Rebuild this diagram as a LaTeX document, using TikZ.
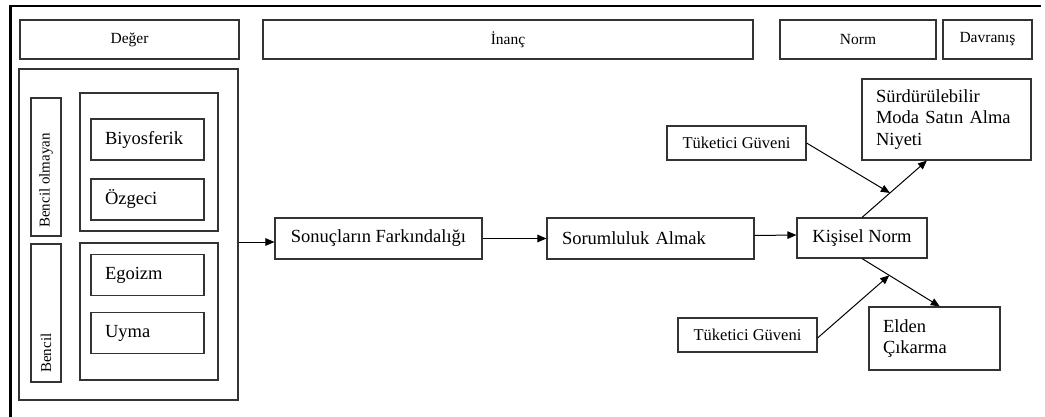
\documentclass[tikz,border=0pt]{standalone}
\usepackage{fontspec}
\setmainfont{Liberation Serif}
\usetikzlibrary{arrows.meta,calc}
\tikzset{
  box/.style={draw=black!80, line width=1.1pt, inner sep=0pt, align=center},
  hdr/.style={box, font=\fontsize{15.5}{18}\selectfont, minimum height=39pt},
  item/.style={box, font=\fontsize{18.5}{21.5}\selectfont, minimum width=113pt, minimum height=41pt,
               text width=85pt, align=left, inner xsep=14pt},
  side/.style={box, minimum width=30pt, minimum height=138pt},
  sidetxt/.style={font=\fontsize{15}{18}\selectfont, rotate=90, anchor=west, inner sep=0pt},
  main/.style={box, font=\fontsize{18.5}{21.5}\selectfont},
  trust/.style={box, font=\fontsize{16.5}{19}\selectfont, minimum width=139pt, minimum height=34pt},
  arr/.style={draw=black, line width=1pt, -{Triangle[length=9pt,width=7.5pt]}},
}
\begin{document}
\begin{tikzpicture}[x=1pt,y=-1pt]
\useasboundingbox (0,0) rectangle (1045,417);
% frame
\draw[line width=2.5pt, line cap=rect] (10.5,417) -- (10.5,6) -- (1040,6);

% column headers
\node[hdr, minimum width=219pt] (hval) at (129.5,39.5) {Değer};
\node[hdr, minimum width=490pt] (hbel) at (508,39.5) {İnanç};
\node[hdr, minimum width=156pt] (hnorm) at (858,39.5) {Norm};
\node[hdr, minimum width=89pt] (hbeh) at (987.5,39.5) {Davranış};

% values
\node[box, minimum width=219pt, minimum height=331pt] (val) at (128.5,234.5) {};
\node[side] (nself) at (46,167) {};
\node[sidetxt] (nselft) at (46,228) {Bencil olmayan};
\node[side] (self) at (46,313) {};
\node[sidetxt] (selft) at (46,373) {Bencil};
\node[box, minimum width=138pt, minimum height=138pt] (gup) at (149,162) {};
\node[box, minimum width=138pt, minimum height=137pt] (glo) at (149,311.5) {};
\node[item] (bio) at (147.5,139.5) {Biyosferik};
\node[item] (alt) at (147.5,199.5) {Özgeci};
\node[item] (ego) at (147.5,275) {Egoizm};
\node[item] (con) at (147.5,333) {Uyma};

% beliefs, norm, behaviour
\node[main, minimum width=207pt, minimum height=41pt] (son) at (378.5,238.5) {Sonuçların Farkındalığı};
\node[main, minimum width=207pt, minimum height=41pt, text width=177pt, align=left, inner xsep=15pt] (sor) at (650.5,238.5) {Sorumluluk Almak};
\node[main, minimum width=130pt, minimum height=40pt] (kn) at (862,238) {Kişisel Norm};
\node[trust] (tg1) at (736.5,143) {Tüketici Güveni};
\node[trust] (tg2) at (747.5,335) {Tüketici Güveni};
\node[main, minimum width=169pt, minimum height=81pt, text width=141pt, align=left, inner xsep=14pt] (sd) at (946.5,119.5)
  {Sürdürülebilir\\Moda Satın Alma\\Niyeti};
\node[main, minimum width=131pt, minimum height=63pt, text width=103pt, align=left, inner xsep=13pt] (ed) at (934.5,338.5)
  {Elden\\Çıkarma};

% connectors
\draw[arr] ([yshift=-3.5pt]val.east |- son.west) -- ([yshift=-3.5pt]son.west);
\draw[arr] (son.east) -- (sor.west);
\draw[arr] ([yshift=3pt]sor.east) -- ([yshift=3pt]kn.west);
\coordinate (sdin) at ($(sd.south west)!0.385!(sd.south east)$);
\coordinate (edin) at ($(ed.north west)!0.54!(ed.north east)$);
\coordinate (mup) at ($(kn.north)!0.43!(sdin)$);
\coordinate (mlo) at ($(kn.south)!0.35!(edin)$);
\draw[arr] (kn.north) -- (sdin);
\draw[arr] (kn.south) -- (edin);
\draw[arr] (tg1.east) -- (mup);
\draw[arr] ([yshift=-3pt]tg2.east) -- (mlo);
\end{tikzpicture}
\end{document}
